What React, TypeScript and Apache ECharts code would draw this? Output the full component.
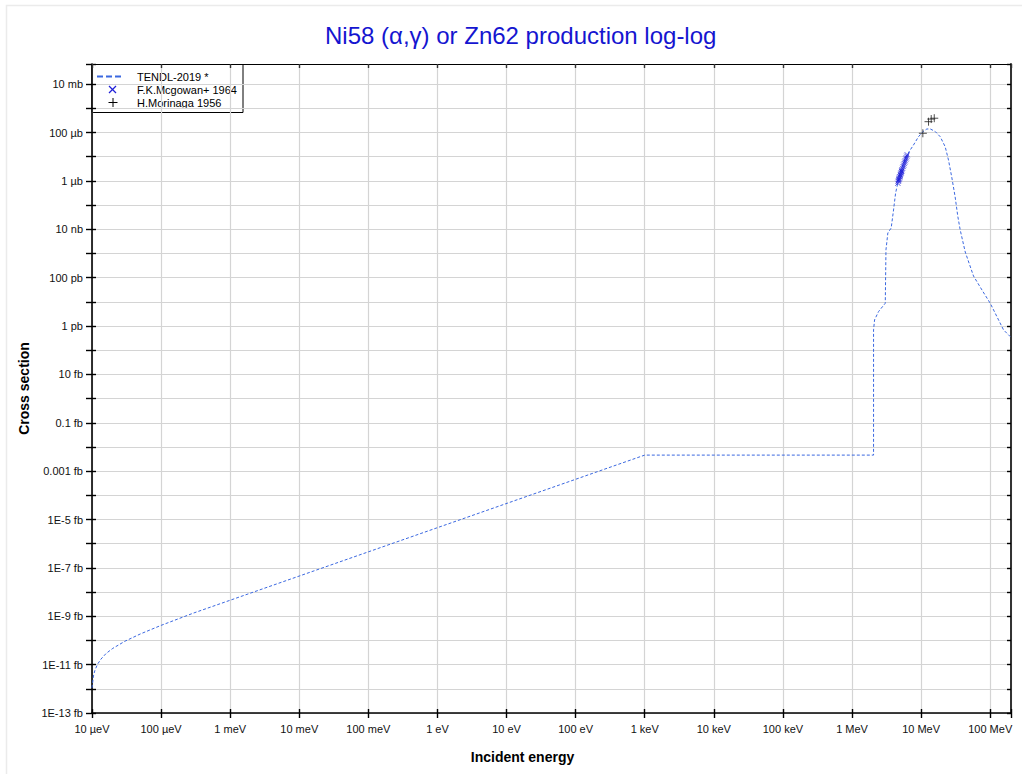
import React, { useEffect, useRef } from "react";
import * as echarts from "echarts";

// Decade exponents and tick labels (energy in eV, cross section in barns)
const xTickExponents = [-5, -4, -3, -2, -1, 0, 1, 2, 3, 4, 5, 6, 7, 8];
const xTickLabels = [
  "10 µeV", "100 µeV", "1 meV", "10 meV", "100 meV", "1 eV", "10 eV",
  "100 eV", "1 keV", "10 keV", "100 keV", "1 MeV", "10 MeV", "100 MeV",
];
const yTickExponents = [-28, -26, -24, -22, -20, -18, -16, -14, -12, -10, -8, -6, -4, -2];
const yTickLabels = [
  "1E-13 fb", "1E-11 fb", "1E-9 fb", "1E-7 fb", "1E-5 fb", "0.001 fb", "0.1 fb",
  "10 fb", "1 pb", "100 pb", "10 nb", "1 µb", "100 µb", "10 mb",
];

const xMinEnergy = 1e-5;
const xMaxEnergy = 2e8;
const yMinXs = 1e-28;
const yMaxXs = 0.068;

// TENDL-2019 evaluated curve: energy (eV), cross section (b)
const tendlEnergy = [
  1e-5, 1.05e-5, 1.1e-5, 1.2e-5, 1.35e-5, 1.6e-5, 2e-5, 3e-5, 5e-5, 1e-4, 3e-4, 1e-3,
  1e3, 2.05e6, 2.05e6, 2.12e6, 2.42e6, 3.03e6, 3.1e6, 3.3e6, 3.69e6, 3.99e6, 4.27e6,
  4.99e6, 6.22e6, 7.76e6, 9.16e6, 1.06e7, 1.21e7, 1.36e7, 1.6e7, 1.89e7, 2.23e7,
  2.49e7, 2.79e7, 3.11e7, 3.39e7, 3.68e7, 4.35e7, 5.73e7, 7.59e7, 1.0e8, 1.32e8,
  1.56e8, 1.95e8,
];
const tendlXs = [
  1.1e-27, 3.4e-27, 5.7e-27, 1.03e-26, 1.7e-26, 2.9e-26, 4.7e-26, 9.3e-26, 1.85e-25,
  4.2e-25, 1.38e-24, 4.6e-24, 4.6e-18, 4.6e-18, 6.9e-13, 1.79e-12, 3.94e-12, 8.75e-12,
  1.4e-9, 7.03e-9, 1.13e-8, 6.28e-8, 3.08e-7, 2.4e-6, 1.17e-5, 3.04e-5, 6.7e-5,
  1.08e-4, 1.4e-4, 1.4e-4, 1.1e-4, 6.7e-5, 2.59e-5, 7.31e-6, 1.32e-6, 2.16e-7,
  3.55e-8, 9.35e-9, 1.15e-9, 1.17e-10, 3.1e-11, 8.75e-12, 1.79e-12, 6.9e-13, 3.65e-13,
];

// F.K.Mcgowan+ 1964: energy (eV), cross section (b)
const mcgowanEnergy = [
  4.6e6, 4.65e6, 4.7e6, 4.75e6, 4.8e6, 4.85e6, 4.9e6, 4.95e6, 5.0e6, 5.05e6, 5.1e6,
  5.15e6, 5.2e6, 5.25e6, 5.3e6, 5.4e6, 5.5e6, 5.6e6, 5.7e6, 5.8e6, 5.9e6, 6.0e6,
  6.1e6, 6.2e6, 6.3e6,
];
const mcgowanXs = [
  0.8e-6, 0.95e-6, 1.02e-6, 1.12e-6, 1.2e-6, 1.3e-6, 1.45e-6, 1.52e-6, 1.7e-6, 1.85e-6,
  2.05e-6, 2.2e-6, 2.45e-6, 2.6e-6, 2.9e-6, 3.3e-6, 3.9e-6, 4.5e-6, 5.2e-6, 6.0e-6,
  6.8e-6, 8.0e-6, 9.0e-6, 10.5e-6, 12.0e-6,
];

// H.Morinaga 1956: energy (eV), cross section (b)
const morinagaEnergy = [1.06e7, 1.28e7, 1.4e7, 1.55e7];
const morinagaXs = [9.3e-5, 2.8e-4, 3.6e-4, 3.9e-4];

const FONT = "'Liberation Sans', Arial, Helvetica, sans-serif";
const LINE_BLUE = "#3b68e0";
const MARK_BLUE = "#2020d8";

const toLogPairs = (xs: number[], ys: number[]) =>
  xs.map((x, i) => [Math.log10(x), Math.log10(ys[i])]);

const labelFrom = (exps: number[], labels: string[]) => (v: number) => {
  const k = Math.round(v);
  if (Math.abs(v - k) > 1e-6) return "";
  const idx = exps.indexOf(k);
  return idx >= 0 ? labels[idx] : "";
};

export default function App() {
  const ref = useRef<HTMLDivElement>(null);

  useEffect(() => {
    if (!ref.current) return;
    const chart = echarts.init(ref.current, undefined, { renderer: "svg" });

    const xMin = Math.log10(xMinEnergy);
    const xMax = Math.log10(xMaxEnergy);
    const yMin = Math.log10(yMinXs);
    const yMax = Math.log10(yMaxXs);

    const gridLine = { show: true, lineStyle: { color: "#d4d4d4", width: 1.2 } };

    const option: any = {
      animation: false,
      backgroundColor: "#ffffff",
      textStyle: { fontFamily: FONT },
      title: {
        text: "Ni58 (α,γ) or Zn62 production log-log",
        left: 320,
        top: 18,
        textStyle: { color: "#1515d0", fontSize: 24, fontWeight: "normal", fontFamily: FONT },
      },
      grid: { left: 92, right: 11, top: 64, bottom: 61, containLabel: false },
      xAxis: [
        {
          type: "value", position: "bottom", min: xMin, max: xMax, interval: 1,
          axisLine: { show: true, onZero: false, lineStyle: { color: "#000", width: 1.6 } },
          axisTick: { show: true, inside: false, length: 5, lineStyle: { color: "#000", width: 1.4 } },
          axisLabel: {
            show: true, margin: 10, fontSize: 11, color: "#111", fontFamily: FONT,
            formatter: labelFrom(xTickExponents, xTickLabels),
            showMinLabel: true, showMaxLabel: true, hideOverlap: false,
          },
          splitLine: gridLine,
          name: "Incident energy", nameLocation: "middle", nameGap: 37,
          nameTextStyle: {
            fontWeight: "bold", fontSize: 14, color: "#000", fontFamily: FONT,
            padding: [0, 58, 0, 0],
          },
        },
        {
          type: "value", position: "bottom", min: xMin, max: xMax, interval: 1,
          axisLine: { show: false, onZero: false },
          axisTick: { show: true, inside: true, length: 4, lineStyle: { color: "#000", width: 1.4 } },
          axisLabel: { show: false }, splitLine: { show: false },
        },
        {
          type: "value", position: "top", min: xMin, max: xMax, interval: 1,
          axisLine: { show: true, onZero: false, lineStyle: { color: "#000", width: 1.2 } },
          axisTick: { show: true, inside: true, length: 4, lineStyle: { color: "#333", width: 1.4 } },
          axisLabel: { show: false }, splitLine: { show: false },
        },
      ],
      yAxis: [
        {
          type: "value", position: "left", min: yMin, max: yMax, interval: 1,
          axisLine: { show: true, onZero: false, lineStyle: { color: "#000", width: 1.6 } },
          axisTick: { show: true, inside: false, length: 6, lineStyle: { color: "#000", width: 1.4 } },
          axisLabel: {
            show: true, margin: 9, fontSize: 11, color: "#111", fontFamily: FONT,
            formatter: labelFrom(yTickExponents, yTickLabels),
            showMinLabel: true, showMaxLabel: true, hideOverlap: false,
          },
          splitLine: gridLine,
          name: "Cross section", nameLocation: "middle", nameGap: 58,
          nameTextStyle: { fontWeight: "bold", fontSize: 14, color: "#000", fontFamily: FONT },
        },
        {
          type: "value", position: "left", min: yMin, max: yMax, interval: 1,
          axisLine: { show: false, onZero: false },
          axisTick: { show: true, inside: true, length: 4, lineStyle: { color: "#000", width: 1.4 } },
          axisLabel: { show: false }, splitLine: { show: false },
        },
        {
          type: "value", position: "right", min: yMin, max: yMax, interval: 1,
          axisLine: { show: true, onZero: false, lineStyle: { color: "#333", width: 2 } },
          axisTick: { show: true, inside: true, length: 4, lineStyle: { color: "#000", width: 1.4 } },
          axisLabel: { show: false }, splitLine: { show: false },
        },
      ],
      series: [
        {
          name: "TENDL-2019 *",
          type: "line",
          xAxisIndex: 0, yAxisIndex: 0,
          data: toLogPairs(tendlEnergy, tendlXs),
          symbol: "none", showSymbol: false,
          lineStyle: { color: LINE_BLUE, width: 1, type: [3, 2] },
          z: 3,
        },
        {
          name: "F.K.Mcgowan+ 1964",
          type: "scatter",
          xAxisIndex: 0, yAxisIndex: 0,
          data: toLogPairs(mcgowanEnergy, mcgowanXs),
          symbol: "path://M0,0L10,10M10,0L0,10",
          symbolSize: 5,
          itemStyle: { color: "none", borderColor: MARK_BLUE, borderWidth: 1 },
          z: 4,
        },
        {
          name: "H.Morinaga 1956",
          type: "scatter",
          xAxisIndex: 0, yAxisIndex: 0,
          data: toLogPairs(morinagaEnergy, morinagaXs),
          symbol: "path://M5,0L5,10M0,5L10,5",
          symbolSize: 8,
          itemStyle: { color: "none", borderColor: "#222", borderWidth: 1 },
          z: 4,
        },
      ],
      graphic: [
        {
          type: "rect", silent: true, z: -10,
          shape: { x: 6.5, y: 5.5, width: 1020, height: 772 },
          style: { fill: "none", stroke: "#ebebeb", lineWidth: 1.5 },
        },
        {
          type: "group", z: 100,
          children: [
            {
              type: "rect",
              shape: { x: 92, y: 64.5, width: 151, height: 48 },
              style: { fill: "#fff", stroke: "#000", lineWidth: 1 },
            },
            {
              type: "line",
              shape: { x1: 97, y1: 76.5, x2: 124, y2: 76.5 },
              style: { stroke: LINE_BLUE, lineWidth: 2, lineDash: [6, 3] },
            },
            {
              type: "line",
              shape: { x1: 109, y1: 86, x2: 116, y2: 93 },
              style: { stroke: MARK_BLUE, lineWidth: 1.2 },
            },
            {
              type: "line",
              shape: { x1: 116, y1: 86, x2: 109, y2: 93 },
              style: { stroke: MARK_BLUE, lineWidth: 1.2 },
            },
            {
              type: "line",
              shape: { x1: 113, y1: 98, x2: 113, y2: 107 },
              style: { stroke: "#000", lineWidth: 1 },
            },
            {
              type: "line",
              shape: { x1: 108.5, y1: 102.5, x2: 117.5, y2: 102.5 },
              style: { stroke: "#000", lineWidth: 1 },
            },
            {
              type: "text", x: 137, y: 76.5,
              style: { text: "TENDL-2019 *", fill: "#000", font: `11px ${FONT}`, verticalAlign: "middle" },
            },
            {
              type: "text", x: 137, y: 89.5,
              style: { text: "F.K.Mcgowan+ 1964", fill: "#000", font: `11px ${FONT}`, verticalAlign: "middle" },
            },
            {
              type: "text", x: 137, y: 102.5,
              style: { text: "H.Morinaga 1956", fill: "#000", font: `11px ${FONT}`, verticalAlign: "middle" },
            },
          ],
        },
      ],
    };

    chart.setOption(option);
    return () => chart.dispose();
  }, []);

  return (
    <div
      ref={ref}
      style={{ position: "absolute", left: 0, top: 0, width: 1022, height: 774, background: "#fff" }}
    />
  );
}
